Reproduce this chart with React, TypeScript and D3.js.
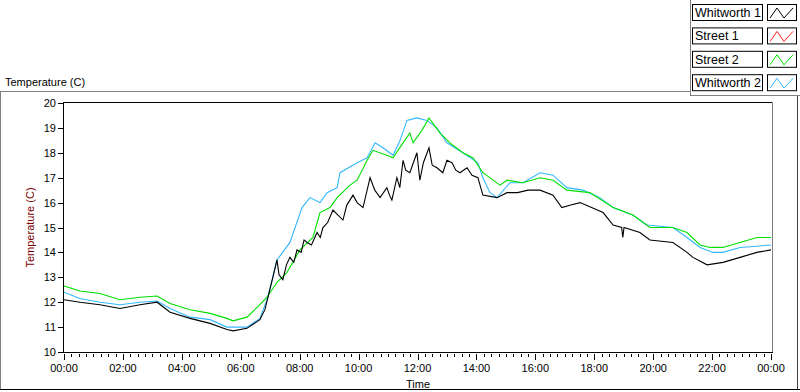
import { useMemo } from "react";
import * as d3 from "d3";

const WIDTH = 800;
const HEIGHT = 392;
const PLOT = { left: 64, right: 772, top: 103, bottom: 352 };
const FONT = "'Liberation Sans', Arial, sans-serif";

// hours since midnight / temperature (C)
const whitworth1Hours = [0, 0.54, 1.22, 1.9, 2.58, 3.16, 3.6, 4.28, 4.96, 5.53, 5.74, 6.21, 6.65, 6.82, 7.09, 7.23, 7.3, 7.43, 7.55, 7.67, 7.8, 7.91, 8.05, 8.15, 8.25, 8.4, 8.59, 8.7, 8.79, 8.95, 9.13, 9.3, 9.47, 9.6, 9.81, 9.95, 10.15, 10.39, 10.55, 10.73, 10.96, 11.05, 11.13, 11.3, 11.4, 11.51, 11.6, 11.74, 11.98, 12.08, 12.2, 12.39, 12.5, 12.66, 12.86, 13.0, 13.17, 13.3, 13.44, 13.68, 13.85, 14.05, 14.22, 14.7, 15.04, 15.4, 15.75, 16.16, 16.6, 16.9, 17.2, 17.52, 18.3, 18.64, 18.93, 18.97, 19.01, 19.55, 19.89, 20.67, 21.15, 21.35, 21.83, 22.37, 22.95, 23.52, 24];
const whitworth1Temp = [12.1, 12.0, 11.9, 11.75, 11.9, 12.0, 11.6, 11.35, 11.15, 10.9, 10.85, 10.95, 11.3, 11.7, 13.0, 13.7, 13.1, 12.9, 13.5, 13.8, 13.6, 14.1, 14.0, 14.5, 14.4, 14.3, 14.8, 14.6, 15.0, 15.2, 15.7, 15.5, 15.3, 15.9, 16.3, 16.0, 15.8, 17.0, 16.5, 16.2, 16.6, 16.3, 16.1, 17.0, 16.6, 17.7, 17.3, 17.2, 18.0, 16.9, 17.6, 18.2, 17.5, 17.4, 17.2, 17.7, 17.6, 17.3, 17.2, 17.4, 17.1, 17.0, 16.3, 16.2, 16.4, 16.4, 16.5, 16.5, 16.3, 15.8, 15.9, 16.0, 15.6, 15.1, 15.0, 14.6, 15.0, 14.8, 14.5, 14.4, 14.0, 13.8, 13.5, 13.6, 13.8, 14.0, 14.1];

const street2Hours = [0, 0.54, 1.22, 1.9, 2.58, 3.16, 3.6, 4.28, 4.96, 5.53, 5.74, 6.21, 6.65, 6.89, 7.23, 7.57, 8.01, 8.45, 8.69, 9.03, 9.27, 9.71, 9.95, 10.29, 10.49, 10.96, 11.17, 11.51, 11.74, 11.85, 12.15, 12.39, 12.76, 13.1, 13.54, 13.88, 14.05, 14.22, 14.8, 15.04, 15.58, 16.16, 16.6, 17.07, 17.85, 18.64, 19.31, 19.89, 20.67, 21.15, 21.59, 21.93, 22.37, 22.95, 23.52, 24];
const street2Temp = [12.65, 12.45, 12.35, 12.1, 12.2, 12.25, 11.95, 11.7, 11.55, 11.35, 11.25, 11.4, 11.9, 12.2, 12.8, 13.2, 14.1, 14.6, 15.6, 15.8, 16.2, 16.7, 16.9, 17.7, 18.1, 17.9, 17.8, 18.4, 18.8, 18.4, 18.9, 19.4, 18.8, 18.4, 18.0, 17.8, 17.5, 17.2, 16.7, 16.9, 16.8, 17.0, 16.9, 16.5, 16.4, 15.8, 15.5, 15.0, 15.0, 14.8, 14.3, 14.2, 14.2, 14.4, 14.6, 14.6];

const whitworth2Hours = [0, 0.54, 1.22, 1.9, 2.58, 3.16, 3.6, 4.28, 4.96, 5.53, 5.87, 6.21, 6.65, 6.92, 7.23, 7.67, 8.08, 8.35, 8.69, 8.93, 9.27, 9.37, 9.95, 10.29, 10.56, 10.83, 11.17, 11.41, 11.64, 11.98, 12.32, 12.66, 13.0, 13.54, 14.05, 14.22, 14.46, 14.7, 15.14, 15.58, 16.16, 16.6, 17.07, 17.62, 18.19, 18.64, 19.31, 19.79, 20.67, 21.15, 21.59, 22.03, 22.37, 22.95, 23.52, 24];
const whitworth2Temp = [12.4, 12.15, 12.0, 11.9, 12.0, 12.05, 11.75, 11.4, 11.3, 11.0, 11.0, 11.0, 11.35, 12.2, 13.7, 14.4, 15.8, 16.2, 16.0, 16.4, 16.6, 17.2, 17.6, 17.8, 18.4, 18.2, 17.9, 18.5, 19.3, 19.4, 19.3, 19.0, 18.4, 18.0, 17.6, 17.0, 16.4, 16.2, 16.8, 16.8, 17.2, 17.1, 16.6, 16.5, 16.2, 15.8, 15.5, 15.1, 15.0, 14.6, 14.2, 14.0, 14.0, 14.2, 14.25, 14.3];

const legendNames = ["Whitworth 1", "Street 1", "Street 2", "Whitworth 2"];
const legendColors = ["#000000", "#ff2020", "#00e000", "#33b8ff"];
const yTicks = [10, 11, 12, 13, 14, 15, 16, 17, 18, 19, 20];
const xTickLabels = ["00:00", "02:00", "04:00", "06:00", "08:00", "10:00", "12:00", "14:00", "16:00", "18:00", "20:00", "22:00", "00:00"];

const series = [
    { hours: whitworth2Hours, temp: whitworth2Temp, color: "#33b8ff" },
    { hours: street2Hours, temp: street2Temp, color: "#00e000" },
    { hours: whitworth1Hours, temp: whitworth1Temp, color: "#000000" },
];

export default function App() {
    const xScale = useMemo(() => d3.scaleLinear().domain([0, 24]).range([PLOT.left, PLOT.right - 1]), []);
    const yScale = useMemo(() => d3.scaleLinear().domain([10, 20]).range([PLOT.bottom, PLOT.top]), []);

    const line = d3
        .line<[number, number]>()
        .x((d) => xScale(d[0]))
        .y((d) => yScale(d[1]));

    const minorTicks = d3.range(0, 24.01, 0.25);

    return (
        <div>
            <style>{"body{margin:0}"}</style>
            <svg width={WIDTH} height={HEIGHT} style={{ display: "block", background: "#fff" }} fontFamily={FONT}>
                {/* outer frame */}
                <line x1={0} x2={690} y1={91.5} y2={91.5} stroke="#808080" />
                <line x1={0.5} x2={0.5} y1={91} y2={390} stroke="#808080" />
                <line x1={0} x2={800} y1={389.5} y2={389.5} stroke="#000" />
                <line x1={690.5} x2={690.5} y1={0} y2={96} stroke="#808080" />
                <line x1={690} x2={800} y1={95.5} y2={95.5} stroke="#808080" />
                <line x1={797.5} x2={797.5} y1={96} y2={390} stroke="#404040" />

                <text x={5} y={86} fontSize={11} fill="#000">Temperature (C)</text>

                {/* legend */}
                {legendNames.map((name, i) => {
                    const y0 = 4 + i * 23.4;
                    return (
                        <g key={name}>
                            <rect x={692.5} y={y0 + 0.5} width={70} height={16} fill="#fff" stroke="#000" />
                            <text x={695} y={y0 + 13} fontSize={12.5} fill="#000">{name}</text>
                            <rect x={767.5} y={y0 + 0.5} width={29} height={16} fill="#fff" stroke="#000" />
                            <polyline
                                points={`770,${y0 + 14} 777,${y0 + 4} 784,${y0 + 14} 793,${y0 + 4}`}
                                fill="none"
                                stroke={legendColors[i]}
                            />
                        </g>
                    );
                })}

                {/* plot frame */}
                <line x1={PLOT.left} x2={PLOT.right} y1={PLOT.top - 0.5} y2={PLOT.top - 0.5} stroke="#000" />
                <line x1={PLOT.right + 0.5} x2={PLOT.right + 0.5} y1={PLOT.top - 1} y2={PLOT.bottom + 1} stroke="#808080" />
                <line x1={PLOT.left} x2={PLOT.right + 1} y1={PLOT.bottom + 0.5} y2={PLOT.bottom + 0.5} stroke="#000" />
                <line x1={PLOT.left - 0.5} x2={PLOT.left - 0.5} y1={PLOT.top - 1} y2={PLOT.bottom + 1} stroke="#000" />

                {/* y axis */}
                {yTicks.map((t) => (
                    <g key={t}>
                        <line x1={PLOT.left - 6} x2={PLOT.left - 1} y1={Math.round(yScale(t)) + 0.5} y2={Math.round(yScale(t)) + 0.5} stroke="#000" />
                        <text x={PLOT.left - 8} y={yScale(t) + 4} fontSize={11} textAnchor="end" fill="#000">{t}</text>
                    </g>
                ))}
                <text
                    transform={`translate(34,${(PLOT.top + PLOT.bottom) / 2}) rotate(-90)`}
                    fontSize={11}
                    textAnchor="middle"
                    fill="#7a0000"
                >
                    Temperature (C)
                </text>

                {/* x axis */}
                {minorTicks.map((h, i) => {
                    const x = Math.round(xScale(h)) + 0.5;
                    const major = i % 8 === 0;
                    return <line key={i} x1={x} x2={x} y1={PLOT.bottom + 2} y2={PLOT.bottom + (major ? 8 : 5)} stroke="#000" />;
                })}
                {xTickLabels.map((label, i) => (
                    <text key={i} x={xScale(i * 2)} y={372} fontSize={11} textAnchor="middle" fill="#000">{label}</text>
                ))}
                <text x={(PLOT.left + PLOT.right) / 2} y={388} fontSize={11} textAnchor="middle" fill="#000">Time</text>

                {/* data */}
                {series.map((s, i) => (
                    <path
                        key={i}
                        d={line(s.hours.map((h, j) => [h, s.temp[j]] as [number, number])) || ""}
                        fill="none"
                        stroke={s.color}
                        strokeWidth={1.1}
                    />
                ))}
            </svg>
        </div>
    );
}
